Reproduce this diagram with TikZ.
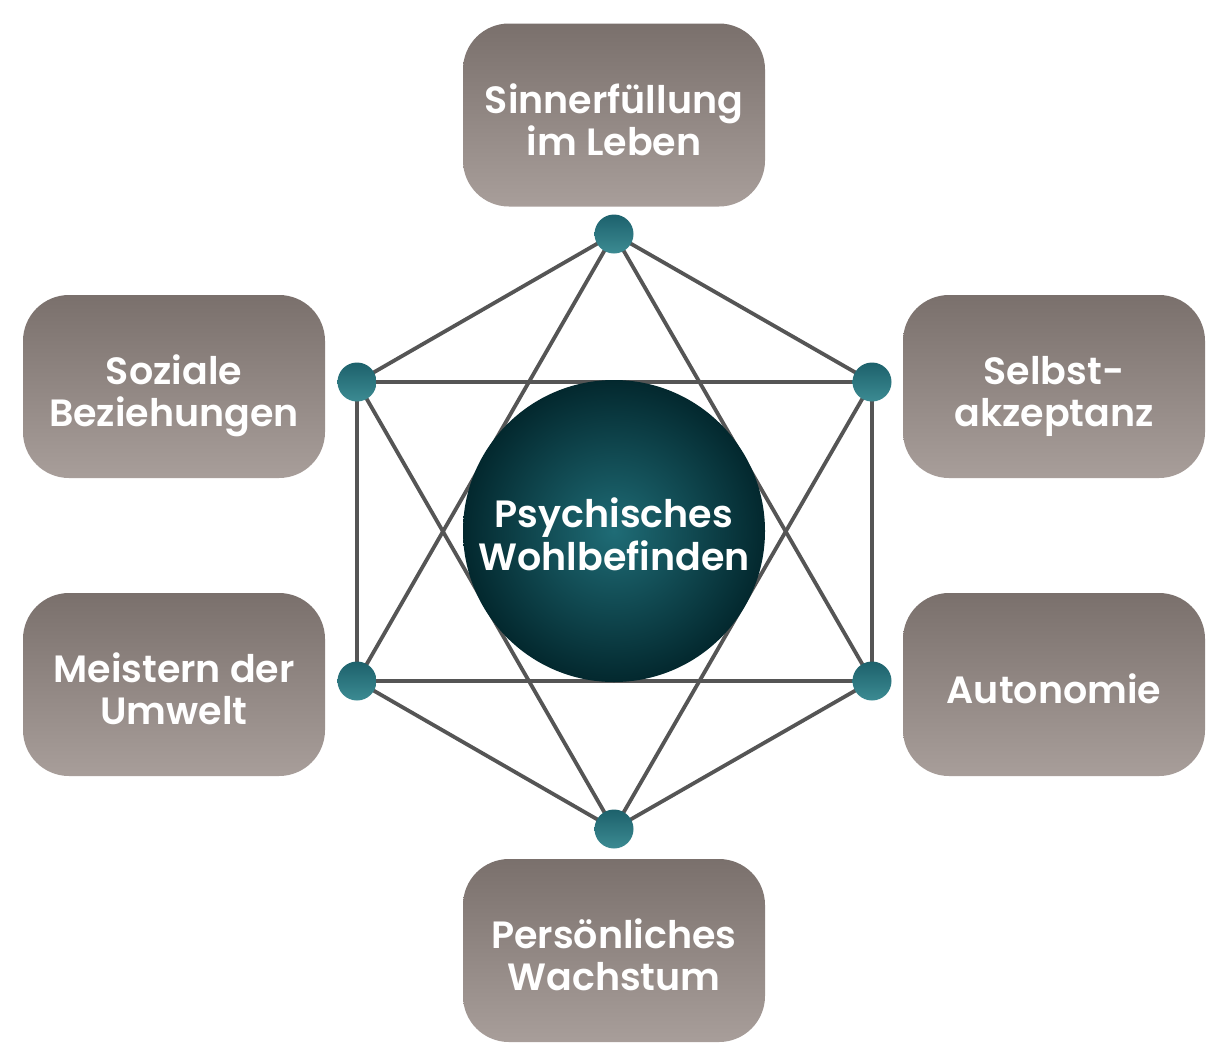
\documentclass[tikz,border=0pt]{standalone}
\usepackage{fontspec}
\setmainfont{Poppins}[UprightFont={* SemiBold}]
\usetikzlibrary{shadings}
\definecolor{boxtop}{HTML}{7A706C}
\definecolor{boxbot}{HTML}{A89E9A}
\definecolor{dottop}{HTML}{1D616C}
\definecolor{dotbot}{HTML}{3C8B93}
\definecolor{circin}{HTML}{1F6C76}
\definecolor{circout}{HTML}{03282E}
\definecolor{linec}{HTML}{555555}
\newcommand{\boxstrut}{\rule[-12pt]{0pt}{62pt}}
\newcommand{\hubstrut}{\rule[-12pt]{0pt}{60pt}}
\begin{document}
\begin{tikzpicture}[x=1pt,y=-1pt,
  catbox/.style={rectangle,rounded corners=46pt,minimum width=302pt,minimum height=183pt,
    inner sep=0pt,top color=boxtop,bottom color=boxbot,draw=none,text=white,align=center,
    font=\fontsize{38}{42}\selectfont, execute at end node=\boxstrut},
  dotnode/.style={circle,minimum size=39pt,inner sep=0pt,top color=dottop,bottom color=dotbot,draw=none},
  link/.style={draw=linec,line width=3.8pt},
  hub/.style={circle,minimum size=302pt,inner sep=0pt,inner color=circin,outer color=circout,
    text=white,align=center,font=\fontsize{38}{40}\selectfont, execute at end node=\hubstrut}]
\useasboundingbox (0,0) rectangle (1228,1063);
\fill[white] (0,0) rectangle (1228,1063);
% boxes
\node[catbox] (b1) at (614,115) {\boxstrut Sinnerfüllung\\im Leben};
\node[catbox] (b2) at (174,386.5) {\boxstrut Soziale\\Beziehungen};
\node[catbox] (b3) at (1054,386.5) {\boxstrut Selbst-\\akzeptanz};
\node[catbox] (b4) at (174,684.5) {\boxstrut Meistern der\\Umwelt};
\node[catbox] (b5) at (1054,684.5) {\boxstrut Autonomie};
\node[catbox] (b6) at (614,950.5) {\boxstrut Persönliches\\Wachstum};
% dot coordinates
\coordinate (pT) at (614,234);
\coordinate (pUL) at (357,382);
\coordinate (pUR) at (872,382);
\coordinate (pLL) at (357,681);
\coordinate (pLR) at (872,681);
\coordinate (pB) at (614,829);
% lines
\draw[link] (pT) -- (pUL) -- (pLL) -- (pB) -- (pLR) -- (pUR) -- cycle;
\draw[link] (pT) -- (pLL) -- (pLR) -- cycle;
\draw[link] (pB) -- (pUL) -- (pUR) -- cycle;
% hub
\node[hub] (hub) at (614,531) {\hubstrut Psychisches\\Wohlbefinden};
% dots
\node[dotnode] (dT) at (pT) {};
\node[dotnode] (dUL) at (pUL) {};
\node[dotnode] (dUR) at (pUR) {};
\node[dotnode] (dLL) at (pLL) {};
\node[dotnode] (dLR) at (pLR) {};
\node[dotnode] (dB) at (pB) {};
\end{tikzpicture}
\end{document}
